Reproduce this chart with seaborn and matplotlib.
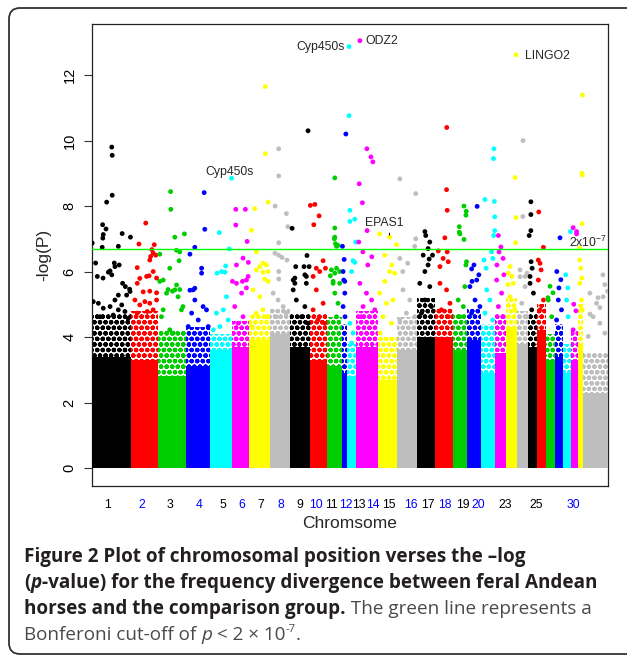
import numpy as np
import pandas as pd
import matplotlib
matplotlib.use("Agg")
import matplotlib.pyplot as plt
import seaborn as sns
from matplotlib.patches import FancyBboxPatch

# ---------------- data ----------------
chroms = [str(i) for i in range(1, 32)] + ["X"]
chrom_len = [183, 127, 132, 113, 103, 80, 99, 94, 94, 80, 71, 26, 40, 103, 92, 92,
             85, 85, 66, 66, 66, 52, 52, 52, 42, 42, 42, 40, 37, 31, 24, 118]
# envelope of the dense SNP mass per chromosome (-log P)
solid_top = [3.4, 3.3, 2.8, 3.1, 3.6, 3.7, 3.9, 4.1, 3.7, 3.3, 3.1, 2.9, 2.8, 3.7, 2.7, 3.6,
             4.0, 4.0, 3.6, 3.9, 2.9, 3.5, 4.3, 3.8, 3.7, 4.2, 3.3, 3.4, 2.9, 3.3, 3.8, 2.3]
cloud_top = [4.7, 4.8, 4.2, 4.3, 4.1, 4.5, 4.7, 4.9, 4.7, 4.7, 4.6, 4.4, 3.8, 4.8, 4.0, 4.6,
             5.2, 4.9, 4.7, 4.9, 4.4, 4.7, 5.2, 4.8, 4.7, 5.0, 4.1, 4.4, 3.8, 4.2, 5.0, 3.5]

# individually visible SNPs above the dense mass: position in chromosome (Mb), -log(P)
pos_by_chrom = [
    [93, 95, 1, 50, 66, 53, 51, 48, 69, 95, 124, 142, 181, 17, 25, 52, 77, 85, 105, 128, 108, 93, 144, 157, 177, 124, 163],
    [70, 38, 110, 30, 93, 105, 89, 117, 99, 105, 86, 121, 42, 74, 30, 58, 89, 121],
    [60, 61, 80, 125, 9, 88, 103, 100, 56, 25, 9, 88, 48, 69, 103],
    [86, 89, 42, 19, 74, 74, 42, 19],
    [102, 44, 91, 34, 55, 71, 74],
    [19, 64, 19, 72, 53, 22, 78, 3, 50, 77, 69],
    [78, 78, 91, 28, 13, 36, 67, 83, 52, 91, 67, 36, 75, 91],
    [42, 42, 25, 78, 85, 42, 24, 42, 58, 81, 42, 42],
    [86, 11, 81, 28, 67, 91, 78, 24, 71, 24, 78],
    [3, 24, 44, 19, 63, 31, 47, 74, 16],
    [38, 38, 38, 36, 41, 53, 46, 46, 38, 61, 17, 30, 61],
    [19, 3, 11, 6, 14],
    [8, 8, 12, 35, 12, 39, 27, 35, 20],
    [19, 52, 71, 80, 16, 31, 53, 14, 33, 75, 56],
    [9, 56, 89, 33, 66, 56, 80, 33],
    [12, 87, 87, 82, 12, 49, 26],
    [38, 42, 61, 53, 30, 74, 58, 53, 38],
    [56, 55, 58, 47, 16, 58, 39, 24, 63],
    [52, 63, 61, 30, 30, 33, 52, 64, 61],
    [48, 33, 56, 24, 22],
    [19, 61, 59, 63, 65, 65, 60, 50, 56, 24, 14],
    [16, 19, 38, 28, 9, 42],
    [47, 42, 47, 45, 19, 28, 9],
    [28, 27, 14, 38, 47],
    [13, 13, 13, 5, 14, 19, 9],
    [8, 30, 6, 14, 19],
    [19, 33, 9],
    [24, 9, 28, 19],
    [33, 11, 21],
    [9, 25, 25, 12, 22],
    [22, 19, 21, 20, 9, 9, 14, 19],
    [94, 103, 71, 80, 116, 33],
]
logp_by_chrom = [
    [9.8, 9.55, 6.87, 7.43, 7.3, 7.13, 7.02, 6.74, 8.12, 8.33, 6.77, 7.16, 7.05, 6.26, 5.85, 5.8, 5.98, 6.02, 6.26, 6.2, 6.15, 5.9, 5.64, 5.54, 5.46, 5.28, 5.28],
    [7.48, 6.84, 6.82, 6.12, 6.46, 6.56, 6.35, 6.5, 6.67, 6.0, 5.87, 5.8, 5.79, 5.85, 5.64, 5.38, 5.4, 5.35],
    [8.44, 7.9, 7.05, 7.15, 6.53, 6.65, 6.6, 6.33, 6.1, 5.74, 5.7, 5.59, 5.45, 5.4, 5.45],
    [8.41, 7.29, 6.74, 6.53, 6.1, 5.95, 5.49, 5.43],
    [8.85, 7.19, 6.69, 5.95, 6.0, 5.98, 6.17],
    [7.9, 7.9, 7.42, 6.92, 6.41, 6.2, 6.28, 5.7, 5.7, 5.85, 5.5],
    [11.65, 9.6, 8.12, 7.92, 7.26, 6.6, 6.26, 6.2, 6.15, 6.0, 5.98, 6.05, 5.77, 5.7],
    [9.75, 8.92, 8.0, 7.77, 7.37, 6.88, 6.56, 6.5, 6.43, 6.35, 6.0, 5.77],
    [10.3, 7.32, 6.49, 6.15, 6.15, 6.15, 5.85, 5.8, 5.9, 5.64, 5.64],
    [8.02, 8.05, 7.7, 7.43, 6.33, 6.1, 6.0, 6.1, 5.85],
    [8.86, 7.33, 7.05, 7.0, 6.85, 6.8, 6.77, 6.1, 5.95, 6.0, 5.87, 5.7, 5.64],
    [10.2, 6.77, 6.37, 6.0, 5.7],
    [12.87, 10.76, 7.87, 7.6, 7.53, 6.9, 6.33, 6.28, 6.0],
    [13.05, 9.75, 9.5, 9.35, 8.68, 8.1, 7.25, 6.9, 6.6, 6.45, 6.2],
    [7.15, 7.05, 6.82, 6.5, 6.2, 6.0, 5.95, 5.7],
    [8.83, 8.38, 7.0, 6.77, 6.4, 6.25, 6.0],
    [7.22, 7.1, 6.9, 6.7, 6.5, 6.5, 6.38, 6.2, 6.0],
    [10.4, 8.5, 7.87, 7.03, 6.63, 6.6, 6.4, 6.15, 6.3],
    [8.0, 7.84, 7.72, 7.37, 7.2, 7.15, 6.98, 6.3, 6.2],
    [7.99, 6.2, 5.9, 5.7, 6.08],
    [8.2, 9.75, 9.45, 8.14, 7.67, 7.25, 7.1, 6.6, 6.4, 6.1, 6.35],
    [7.1, 6.6, 6.4, 6.75, 6.2, 5.9],
    [12.62, 8.87, 7.65, 6.88, 6.15, 5.85, 5.6],
    [10.0, 7.68, 6.05, 5.85, 5.95],
    [8.13, 7.74, 7.25, 7.1, 6.3, 6.1, 5.85],
    [7.82, 6.74, 6.35, 6.25, 6.05],
    [5.55, 5.35, 5.2],
    [7.03, 6.0, 5.75, 5.5],
    [7.22, 5.9, 5.5],
    [7.34, 7.22, 7.15, 5.0, 4.8],
    [11.39, 9.0, 8.95, 7.46, 6.72, 6.35, 6.1, 5.8],
    [5.9, 5.6, 5.2, 4.9, 5.4, 4.7],
]
# SNPs at the ragged upper edge of the dense mass
edge_pos_by_chrom = [
    [6, 30, 53, 85, 108, 124, 155, 171, 38, 100, 140, 179],
    [19, 42, 66, 89, 121, 30, 77, 105],
    [25, 41, 80, 95, 111, 56, 72, 118, 17],
    [34, 42, 27, 81, 97, 58, 11, 105],
    [31, 63, 78, 47, 86, 16],
    [22, 46, 69, 14, 53, 30],
    [20, 52, 67, 36, 83, 13],
    [16, 39, 63, 31, 78],
    [16, 16, 31, 71, 55, 86],
    [31, 16, 63, 39, 71],
    [22, 30, 38, 53, 46],
    [9, 14, 6, 15],
    [12, 27, 20],
    [19, 50, 74, 34, 89, 27],
    [9, 41, 72, 25, 64, 11],
    [27, 59, 43, 82, 12],
    [14, 61, 38, 69, 22],
    [24, 55, 71, 31, 63],
    [25, 49, 33, 56],
    [14, 46, 38, 61, 22],
    [27, 42, 19, 55],
    [8, 31, 16, 39],
    [11, 34, 19, 42],
    [14, 38, 22, 46],
    [9, 25, 17],
    [6, 30, 14],
    [11, 27],
    [16, 31, 8],
    [15, 22],
    [9],
    [9, 17, 21],
    [33, 64, 95, 48, 80, 103, 25],
]
edge_logp_by_chrom = [
    [5.08, 5.03, 4.88, 4.93, 5.13, 4.83, 4.78, 4.57, 4.62, 4.67, 4.98, 5.39],
    [5.13, 4.98, 5.08, 5.03, 5.13, 4.73, 4.78, 4.83],
    [4.83, 5.34, 5.44, 5.23, 4.83, 4.22, 4.12, 4.93, 4.62],
    [5.44, 5.13, 4.73, 4.93, 4.83, 4.52, 4.32, 4.32],
    [4.73, 4.83, 5.23, 4.32, 4.52, 4.22],
    [5.64, 5.34, 5.74, 4.93, 4.62, 4.42],
    [5.44, 5.23, 4.83, 4.73, 4.62, 4.32],
    [5.34, 5.13, 4.93, 4.62, 4.73],
    [5.74, 5.44, 5.13, 4.93, 4.62, 4.42],
    [5.44, 4.83, 5.03, 4.52, 4.42],
    [6.05, 5.64, 5.34, 5.03, 4.62],
    [5.74, 5.34, 4.93, 4.62],
    [4.42, 4.12, 3.81],
    [5.64, 5.34, 5.13, 4.93, 4.83, 4.62],
    [5.34, 5.03, 5.13, 4.62, 4.42, 4.12],
    [5.44, 5.13, 4.73, 4.62, 4.52],
    [5.64, 5.54, 5.13, 4.93, 4.73],
    [5.64, 5.44, 5.03, 4.83, 4.62],
    [5.13, 4.93, 4.62, 5.54],
    [5.54, 5.74, 5.13, 4.93, 4.73],
    [5.44, 5.13, 4.73, 4.52],
    [5.74, 5.34, 4.93, 4.62],
    [5.95, 5.64, 5.23, 4.83],
    [5.84, 5.54, 5.03, 4.62],
    [5.64, 5.34, 4.83],
    [5.74, 5.13, 4.83],
    [5.13, 4.62],
    [5.13, 4.83, 4.52],
    [5.13, 4.62],
    [4.22],
    [5.64, 5.13, 4.83],
    [5.34, 5.03, 5.23, 4.62, 4.42, 4.12, 4.02],
]

label_chroms = [str(i) for i in range(1, 21)] + ["23", "25", "30"]
label_x_mb = [73, 235, 367, 502, 614, 703, 794, 891, 979, 1056, 1127, 1194, 1257, 1320,
              1396, 1500, 1582, 1662, 1746, 1820, 1944, 2090, 2267]
gene_names = ["Cyp450s", "ODZ2", "LINGO2", "Cyp450s", "EPAS1"]
gene_chrom = ["13", "14", "23", "5", "15"]
gene_pos = [8, 19, 47, 102, 56]
gene_logp = [12.87, 13.05, 12.62, 8.85, 7.05]
threshold_p = 2e-7

# ---------------- styling ----------------
sns.set_style("white")
plt.rcParams["font.family"] = ["Liberation Sans", "DejaVu Sans"]
plt.rcParams["mathtext.fontset"] = "custom"
plt.rcParams["mathtext.rm"] = "Liberation Sans"
plt.rcParams["hatch.linewidth"] = 1.6

r_cols = ["#000000", "#FF0000", "#00CD00", "#0000FF", "#00FFFF", "#FF00FF", "#FFFF00", "#BEBEBE"]
palette = {c: r_cols[i % 8] for i, c in enumerate(chroms)}

edges = np.concatenate([[0], np.cumsum(chrom_len)]).astype(float)
offset = dict(zip(chroms, edges[:-1]))
mids = (edges[:-1] + edges[1:]) / 2

W, H = 627, 655
fig = plt.figure(figsize=(W / 100, H / 100), dpi=100)
ax = fig.add_axes([92 / W, 1 - 486 / H, 516 / W, 462 / H])

dense = pd.DataFrame({"chrom": chroms, "mid": mids, "solid": solid_top, "cloud": cloud_top})

for col, hatch, z in [("cloud", "ooo", 2), ("solid", None, 3)]:
    n0 = len(ax.patches)
    try:
        sns.histplot(data=dense, x="mid", weights=col, bins=list(edges), hue="chrom",
                     hue_order=chroms, palette=palette, alpha=1, legend=False,
                     element="bars", linewidth=0, ax=ax)
    except Exception:
        for i in range(len(ax.patches) - 1, n0 - 1, -1):
            ax.patches[i].remove()
        ax.bar(edges[:-1], dense[col], width=chrom_len, align="edge",
               color=[palette[c] for c in chroms], linewidth=0)
    for p in ax.patches[n0:]:
        c = p.get_facecolor()
        p.set_zorder(z)
        p.set_linewidth(0)
        if hatch:
            p.set_facecolor("none")
            p.set_edgecolor(c)
            p.set_hatch(hatch)
        else:
            p.set_edgecolor(c)


def to_frame(pos_lists, val_lists):
    return pd.DataFrame({
        "chrom": [c for c, ps in zip(chroms, pos_lists) for _ in ps],
        "pos": [p for ps in pos_lists for p in ps],
        "logp": [v for vs in val_lists for v in vs],
    })


pts = pd.concat([to_frame(edge_pos_by_chrom, edge_logp_by_chrom),
                 to_frame(pos_by_chrom, logp_by_chrom)], ignore_index=True)
pts["x"] = pts["pos"] + pts["chrom"].map(offset)
sns.scatterplot(data=pts, x="x", y="logp", hue="chrom", hue_order=chroms,
                palette=palette, s=12, linewidth=0, legend=False, ax=ax, zorder=4)

thr = -np.log10(threshold_p)
ax.axhline(thr, color="#00FF00", lw=1.0, zorder=5)

ax.set_xlim(0, edges[-1])
ax.set_ylim(-0.55, 13.56)
ax.set_yticks(range(0, 13, 2))
ax.tick_params(axis="y", labelsize=10.5, length=6, width=0.8, pad=5,
               labelrotation=90, left=True, direction="out", colors="#333333",
               labelcolor="black")
for t in ax.get_yticklabels():
    t.set_va("center")

ax.set_xticks(label_x_mb)
ax.set_xticklabels(label_chroms, fontsize=8.8)
ax.tick_params(axis="x", length=0, pad=9)
for t, c in zip(ax.get_xticklabels(), label_chroms):
    t.set_color("black" if int(c) % 2 == 1 else "#0000FF")

ax.set_xlabel("Chromsome", fontsize=12.5, labelpad=4)
ax.set_ylabel("-log(P)", fontsize=12.5, labelpad=8)
for s in ax.spines.values():
    s.set_visible(True)
    s.set_color("#222222")
    s.set_linewidth(0.9)

# gene annotations
ann_fs = 8.8
gx = [offset[c] + p for c, p in zip(gene_chrom, gene_pos)]
ax.annotate(gene_names[0], (gx[0], gene_logp[0]), xytext=(-3, 0), textcoords="offset points",
            ha="right", va="center", fontsize=ann_fs, zorder=6)
ax.annotate(gene_names[1], (gx[1], gene_logp[1]), xytext=(4, 0), textcoords="offset points",
            ha="left", va="center", fontsize=ann_fs, zorder=6)
ax.annotate(gene_names[2], (gx[2], gene_logp[2]), xytext=(6.5, -1), textcoords="offset points",
            ha="left", va="center", fontsize=ann_fs, zorder=6)
ax.annotate(gene_names[3], (gx[3], gene_logp[3]), xytext=(-1.2, 4.8), textcoords="offset points",
            ha="center", va="center", fontsize=ann_fs, zorder=6)
ax.annotate(gene_names[4], (gx[4], gene_logp[4]), xytext=(-3.6, 10), textcoords="offset points",
            ha="center", va="center", fontsize=ann_fs, zorder=6,
            arrowprops=dict(arrowstyle="-", lw=0.8, color="black", shrinkA=0.5, shrinkB=1.5,
                            relpos=(0.62, 0.0)))
ax.annotate("2x10$^{-7}$", (edges[-1], thr), xytext=(-1, 1.5), textcoords="offset points",
            ha="right", va="baseline", fontsize=ann_fs, zorder=6)

# rounded figure border
border = FancyBboxPatch((9, 1), 660, 646, boxstyle="round,pad=0,rounding_size=11",
                        transform=None, fill=False, edgecolor="#333333", lw=1.3)
fig.add_artist(border)

# caption
cap_fs = 13.6
renderer = fig.canvas.get_renderer()
bold_c = "#231f20"
reg_c = "#4a4a4a"


def draw_line(ybase_px, pieces):
    x = 24.0
    for txt, weight, style, color, dy, fs in pieces:
        t = fig.text(x / W, 1 - (ybase_px - dy) / H, txt, fontsize=fs, fontweight=weight,
                     fontstyle=style, color=color, family=["Open Sans", "DejaVu Sans"],
                     va="baseline", ha="left")
        bb = t.get_window_extent(renderer)
        x = bb.x1


draw_line(562, [("Figure 2 Plot of chromosomal position verses the \u2013log", "bold", "normal", bold_c, 0, cap_fs)])
draw_line(588, [("(", "bold", "normal", bold_c, 0, cap_fs),
                ("p", "bold", "italic", bold_c, 0, cap_fs),
                ("-value) for the frequency divergence between feral Andean", "bold", "normal", bold_c, 0, cap_fs)])
draw_line(614, [("horses and the comparison group.", "bold", "normal", bold_c, 0, cap_fs),
                (" The green line represents a", "normal", "normal", reg_c, 0, cap_fs)])
draw_line(640, [("Bonferoni cut-off of ", "normal", "normal", reg_c, 0, cap_fs),
                ("p", "normal", "italic", reg_c, 0, cap_fs),
                (" < 2 \u00d7 10", "normal", "normal", reg_c, 0, cap_fs),
                ("-7", "normal", "normal", reg_c, 8, cap_fs * 0.6),
                (".", "normal", "normal", reg_c, 0, cap_fs)])

fig.savefig("out.png", dpi=100)
